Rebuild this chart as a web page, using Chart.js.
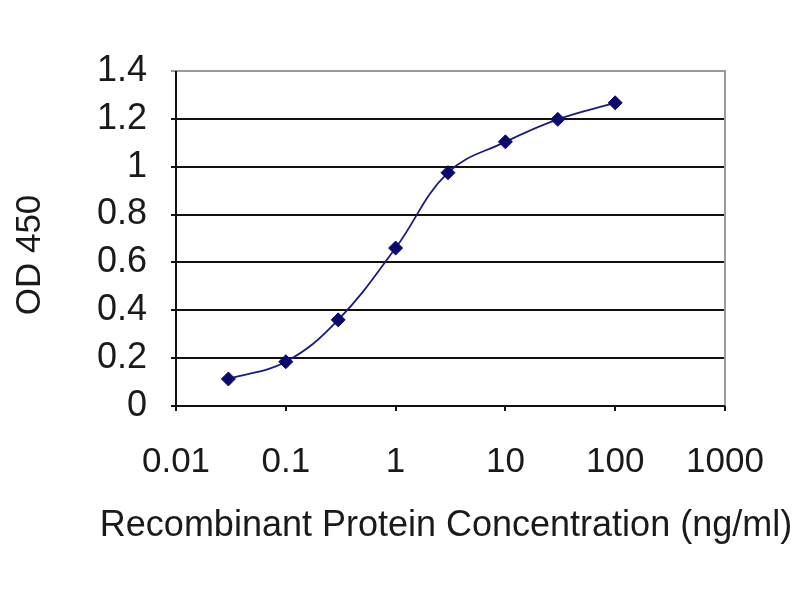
<!DOCTYPE html>
<html>
<head>
<meta charset="utf-8">
<script src="https://cdn.jsdelivr.net/npm/chart.js@4/dist/chart.umd.min.js"></script>
<style>
  html, body { margin: 0; padding: 0; background: #fff; }
  #wrap { width: 800px; height: 600px; }
</style>
</head>
<body>
<div id="wrap"><canvas id="c" width="800" height="600"></canvas></div>
<script>
const concentrations = [0.03, 0.1, 0.3, 1, 3, 10, 30, 100];
const od450 = [0.113, 0.185, 0.36, 0.66, 0.975, 1.104, 1.198, 1.267];
const xTicks = [0.01, 0.1, 1, 10, 100, 1000];
const yTicks = [0, 0.2, 0.4, 0.6, 0.8, 1, 1.2, 1.4];
const xTitle = 'Recombinant Protein Concentration (ng/ml)';
const yTitle = 'OD 450';

const points = concentrations.map((x, i) => ({ x: x, y: od450[i] }));

const fontFamily = '"Liberation Sans", Arial, sans-serif';

const frame = {
  id: 'frame',
  afterDatasetsDraw(chart) {
    const a = chart.chartArea, ctx = chart.ctx;
    ctx.save();
    ctx.strokeStyle = '#9a9a9a';
    ctx.lineWidth = 2;
    ctx.beginPath();
    ctx.moveTo(a.left, a.top);
    ctx.lineTo(a.right, a.top);
    ctx.lineTo(a.right, a.bottom);
    ctx.stroke();
    ctx.strokeStyle = '#111';
    ctx.beginPath();
    ctx.moveTo(a.left, a.top);
    ctx.lineTo(a.left, a.bottom);
    ctx.lineTo(a.right, a.bottom);
    ctx.stroke();
    ctx.restore();
  }
};

const axisTitles = {
  id: 'axisTitles',
  afterDraw(chart) {
    const a = chart.chartArea, ctx = chart.ctx;
    ctx.save();
    ctx.fillStyle = '#1a1a1a';
    ctx.textAlign = 'center';
    ctx.textBaseline = 'middle';
    ctx.font = '36px ' + fontFamily;
    ctx.fillText(xTitle, a.left + 270, a.bottom + 120);
    ctx.translate(30, a.top + 184);
    ctx.rotate(-Math.PI / 2);
    ctx.font = '35px ' + fontFamily;
    ctx.fillText(yTitle, 0, 0);
    ctx.restore();
  }
};

new Chart(document.getElementById('c'), {
  type: 'scatter',
  data: {
    datasets: [{
      data: points,
      showLine: true,
      tension: 0.4,
      borderColor: '#1a1a80',
      borderWidth: 1.8,
      pointStyle: 'rectRot',
      pointRadius: 7,
      pointBackgroundColor: '#0a0a6e',
      pointBorderColor: '#0a0a6e',
      pointBorderWidth: 1
    }]
  },
  plugins: [frame, axisTitles],
  options: {
    responsive: false,
    animation: false,
    devicePixelRatio: 1,
    layout: { padding: { top: 71, right: 75, left: 0, bottom: 0 } },
    plugins: { legend: { display: false }, tooltip: { enabled: false } },
    scales: {
      x: {
        type: 'logarithmic',
        min: 0.01,
        max: 1000,
        afterBuildTicks: (s) => { s.ticks = xTicks.map(v => ({ value: v })); },
        afterFit: (s) => { s.height = 194; },
        grid: { drawOnChartArea: false, color: '#111', lineWidth: 2, tickLength: 5 },
        border: { display: false },
        ticks: {
          autoSkip: false,
          maxRotation: 0,
          padding: 30,
          color: '#1a1a1a',
          font: { family: fontFamily, size: 35 },
          callback: (v) => String(v)
        },
        title: { display: false, text: xTitle }
      },
      y: {
        type: 'linear',
        min: 0,
        max: 1.4,
        afterBuildTicks: (s) => { s.ticks = yTicks.map(v => ({ value: v })); },
        afterFit: (s) => { s.width = 176; },
        grid: {
          color: (c) => (c.tick && c.tick.value === 1.4) ? '#9a9a9a' : '#111',
          lineWidth: 2,
          tickLength: 5
        },
        border: { display: false },
        ticks: {
          padding: 24,
          color: '#1a1a1a',
          font: { family: fontFamily, size: 36 },
          callback: (v) => String(v)
        },
        title: { display: false, text: yTitle }
      }
    }
  }
});
</script>
</body>
</html>
